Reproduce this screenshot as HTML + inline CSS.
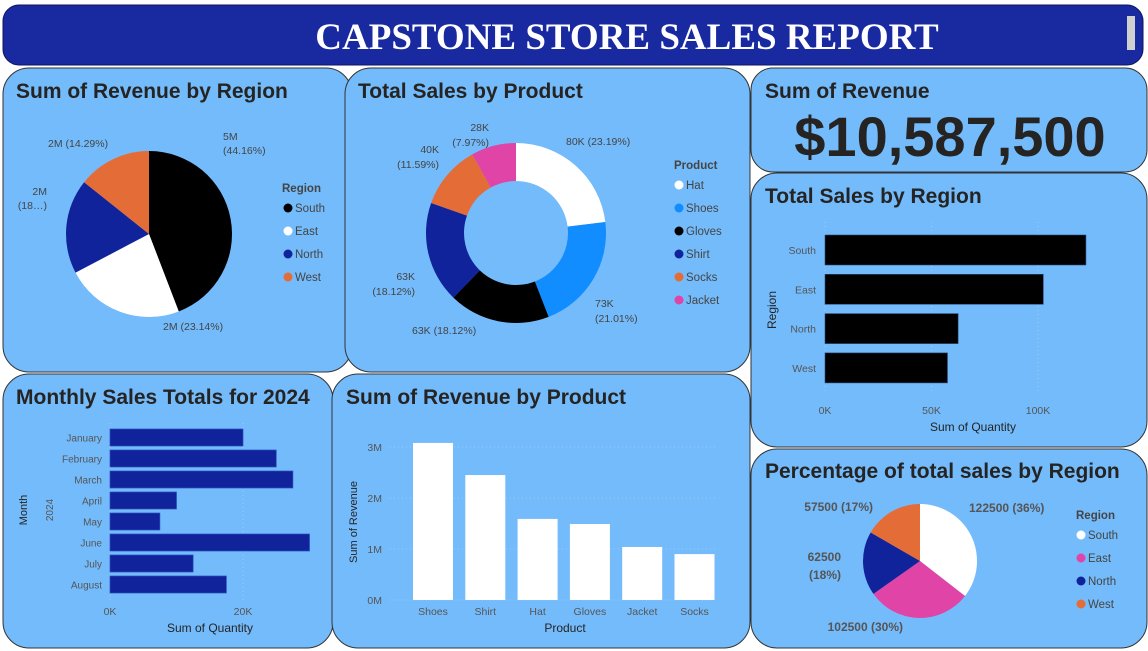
<!DOCTYPE html>
<html><head><meta charset="utf-8"><style>
html,body{margin:0;padding:0;background:#fff;width:1148px;height:651px;overflow:hidden;font-family:"Liberation Sans",sans-serif}
svg text{font-family:"Liberation Sans",sans-serif}
</style></head><body>
<svg id="s" width="1148" height="651" viewBox="0 0 1148 651" xmlns="http://www.w3.org/2000/svg">
<g id="panels">
<rect x="3" y="5" width="1140" height="60" rx="16" fill="#1929a0" stroke="#0e1560"/>
<text x="627" y="49" text-anchor="middle" fill="#fff" font-weight="bold" font-size="37" style="font-family:'Liberation Serif',serif">CAPSTONE STORE SALES REPORT</text>
<rect x="1127" y="16" width="8" height="34" fill="#d0d0d0"/>
<rect x="3" y="68" width="349" height="304" rx="26" fill="#74bbfb" stroke="#333"/>
<rect x="345" y="68" width="405" height="304" rx="26" fill="#74bbfb" stroke="#333"/>
<rect x="751" y="68" width="396" height="104" rx="22" fill="#74bbfb" stroke="#333"/>
<rect x="751" y="173" width="396" height="274" rx="26" fill="#74bbfb" stroke="#333"/>
<rect x="751" y="449" width="396" height="199" rx="26" fill="#74bbfb" stroke="#333"/>
<rect x="3" y="374" width="330" height="274" rx="26" fill="#74bbfb" stroke="#333"/>
<rect x="332" y="374" width="418" height="274" rx="26" fill="#74bbfb" stroke="#333"/>
</g>
<g fill="#252423" font-weight="bold" font-size="21">
<text x="16" y="98">Sum of Revenue by Region</text>
<text x="358" y="98">Total Sales by Product</text>
<text x="765" y="98">Sum of Revenue</text>
<text x="765" y="203">Total Sales by Region</text>
<text x="765" y="478">Percentage of total sales by Region</text>
<text x="16" y="404">Monthly Sales Totals for 2024</text>
<text x="346" y="404">Sum of Revenue by Product</text>
</g>
<text x="950" y="156" text-anchor="middle" fill="#252423" font-weight="bold" font-size="56">$10,587,500</text>
<g id="c"></g>
</svg>
<script>
const NS="http://www.w3.org/2000/svg";
const root=document.getElementById('c');
function mk(tag,a,parent){const e=document.createElementNS(NS,tag);for(const k in a)e.setAttribute(k,a[k]);(parent||root).appendChild(e);return e;}
function txt(x,y,s,a){const e=mk('text',Object.assign({x:x,y:y,fill:'#444','font-size':11},a||{}));e.textContent=s;return e;}
function arc(cx,cy,rx,ry,a0,a1,ir){
  const p=(f,r1,r2)=>[cx+r1*Math.sin(f*2*Math.PI),cy-r2*Math.cos(f*2*Math.PI)];
  const large=(a1-a0)>0.5?1:0;
  const [x0,y0]=p(a0,rx,ry),[x1,y1]=p(a1,rx,ry);
  if(!ir) return `M${cx},${cy}L${x0},${y0}A${rx},${ry} 0 ${large} 1 ${x1},${y1}Z`;
  const [x2,y2]=p(a1,ir,ir),[x3,y3]=p(a0,ir,ir);
  return `M${x0},${y0}A${rx},${ry} 0 ${large} 1 ${x1},${y1}L${x2},${y2}A${ir},${ir} 0 ${large} 0 ${x3},${y3}Z`;
}

const regions1=['South','East','North','West'];
const revShare=[44.16,23.14,18.41,14.29];
const regColors1=['#000000','#ffffff','#11239a','#e46c37'];
const products=['Hat','Shoes','Gloves','Shirt','Socks','Jacket'];
const productSales=[80,73,63,63,40,28];
const prodColors=['#ffffff','#118dff','#000000','#11239a','#e46c37','#e044a7'];
const regions2=['South','East','North','West'];
const regionQty=[122.5,102.5,62.5,57.5];
const regionTicks=[0,50,100];
const regionTickLabels=['0K','50K','100K'];
const regions3=['South','East','North','West'];
const regionPct=[122500,102500,62500,57500];
const regColors3=['#ffffff','#e044a7','#11239a','#e46c37'];
const months=['January','February','March','April','May','June','July','August'];
const monthQty=[20,25,27.5,10,7.5,30,12.5,17.5];
const monthTicks=[0,20];
const monthTickLabels=['0K','20K'];
const prodCats=['Shoes','Shirt','Hat','Gloves','Jacket','Socks'];
const prodRevenue=[3.08,2.45,1.59,1.49,1.04,0.9];
const revTicks=[0,1,2,3];
const revTickLabels=['0M','1M','2M','3M'];

(function(){
  const tot=revShare.reduce((a,b)=>a+b,0);let a=0;
  revShare.forEach((v,i)=>{const f=v/tot;
    const e=mk('path',{d:arc(149,234,83,83,a,a+f),fill:regColors1[i]});
    
    a+=f;});
  const L=[[223,140,'5M','start'],[223,154,'(44.16%)','start'],[163,330,'2M (23.14%)','start'],[47,195,'2M','end'],[47,209,'(18…)','end'],[48,147,'2M (14.29%)','start']];
  L.forEach(l=>{const t=txt(l[0],l[1],l[2],{'text-anchor':l[3],'font-size':10.5,fill:'#444'});
    });
  const t=txt(282,192,'Region',{'font-weight':'bold','font-size':11.5,fill:'#444'});
  
  regions1.forEach((r,i)=>{const y=212+i*23;
    const c=mk('circle',{cx:288,cy:y-4,r:4.5,fill:regColors1[i]});
    
    const tt=txt(295,y,r,{'font-size':11.5,fill:'#444'});
    });
})();

(function(){
  const tot=productSales.reduce((a,b)=>a+b,0);let a=0;
  productSales.forEach((v,i)=>{const f=v/tot;
    const e=mk('path',{d:arc(516,233,90,90,a,a+f,52),fill:prodColors[i]});
    
    a+=f;});
  const L=[[566,145,'80K (23.19%)','start'],[595,307,'73K','start'],[595,322,'(21.01%)','start'],[412,334,'63K (18.12%)','start'],[415,280,'63K','end'],[415,295,'(18.12%)','end'],[439,153,'40K','end'],[439,168,'(11.59%)','end'],[489,131,'28K','end'],[489,146,'(7.97%)','end']];
  L.forEach(l=>{const t=txt(l[0],l[1],l[2],{'text-anchor':l[3],'font-size':10.5,fill:'#444'});
    });
  const t=txt(674,169,'Product',{'font-weight':'bold','font-size':11.5,fill:'#444'});
  
  products.forEach((p,i)=>{const y=189+i*23;
    const c=mk('circle',{cx:679,cy:y-4,r:4.5,fill:prodColors[i]});
    
    const tt=txt(686,y,p,{'font-size':11.5,fill:'#444'});
    });
})();

(function(){
  const x0=825,k=2.13,x=v=>x0+v*k,y0=235,step=39.3,h=30;
  regionTicks.forEach((v,i)=>{
    const l=mk('line',{x1:x(v),x2:x(v),y1:222,y2:392,stroke:'#9bc9f5','stroke-dasharray':'1 3'});
    
    const t=txt(x(v),414,regionTickLabels[i],{'text-anchor':'middle','font-size':10.5,fill:'#555'});
    });
  regions2.forEach((r,i)=>{const y=y0+i*step;
    const b=mk('rect',{x:x0,y:y,width:x(regionQty[i])-x0,height:h,fill:'#000',stroke:'#2c4a7a','stroke-width':0.6});
    
    const t=txt(816,y+h/2+4,r,{'text-anchor':'end','font-size':10.5,fill:'#555'});
    });
  const a=txt(973,431,'Sum of Quantity',{'text-anchor':'middle','font-size':12,fill:'#252423'});
  
  const b=txt(0,0,'Region',{'text-anchor':'middle','font-size':12,fill:'#252423',transform:'translate(776,310) rotate(-90)'});
  
})();

(function(){
  const tot=regionPct.reduce((a,b)=>a+b,0);let a=0;
  regionPct.forEach((v,i)=>{const f=v/tot;
    const e=mk('path',{d:arc(920,561,57,57,a,a+f),fill:regColors3[i]});
    
    a+=f;});
  const L=[[969,512,'122500 (36%)','start'],[873,511,'57500 (17%)','end'],[841,561,'62500','end'],[841,579,'(18%)','end'],[903,631,'102500 (30%)','end']];
  L.forEach(l=>{const t=txt(l[0],l[1],l[2],{'text-anchor':l[3],'font-size':12,'font-weight':'bold',fill:'#555'});
    });
  const t=txt(1076,519,'Region',{'font-weight':'bold','font-size':11.5,fill:'#444'});
  
  regions3.forEach((r,i)=>{const y=539+i*23;
    const c=mk('circle',{cx:1081,cy:y-4,r:4.5,fill:regColors3[i]});
    
    const tt=txt(1088,y,r,{'font-size':11.5,fill:'#444'});
    });
})();

(function(){
  const x0=110,k=6.65,x=v=>x0+v*k,y0=429,step=21,h=17;
  monthTicks.forEach((v,i)=>{
    const l=mk('line',{x1:x(v),x2:x(v),y1:423,y2:600,stroke:'#9bc9f5','stroke-dasharray':'1 3'});
    
    const t=txt(x(v),615,monthTickLabels[i],{'text-anchor':'middle','font-size':10.5,fill:'#555'});
    });
  months.forEach((m,i)=>{const y=y0+i*step;
    const b=mk('rect',{x:x0,y:y,width:x(monthQty[i])-x0,height:h,fill:'#11239a',stroke:'#2a4cc0','stroke-width':0.7});
    
    const t=txt(102,y+h/2+4,m,{'text-anchor':'end','font-size':10,fill:'#555'});
    });
  const a=txt(210,632,'Sum of Quantity',{'text-anchor':'middle','font-size':12,fill:'#252423'});
  
  const b=txt(0,0,'Month',{'text-anchor':'middle','font-size':11,fill:'#252423',transform:'translate(27,510) rotate(-90)'});
  
  const c=txt(0,0,'2024',{'text-anchor':'middle','font-size':10,fill:'#555',transform:'translate(53,510) rotate(-90)'});
  
})();

(function(){
  const y0=600,k=51,y=v=>y0-v*k,xs=413,step=52.3,w=40;
  revTicks.forEach((v,i)=>{
    const l=mk('line',{x1:390,x2:715,y1:y(v),y2:y(v),stroke:'#9bc9f5','stroke-dasharray':'1 3'});
    
    const t=txt(382,y(v)+4,revTickLabels[i],{'text-anchor':'end','font-size':10.5,fill:'#555'});
    });
  prodCats.forEach((p,i)=>{const x=xs+i*step;
    const b=mk('rect',{x:x,y:y(prodRevenue[i]),width:w,height:y0-y(prodRevenue[i]),fill:'#fff'});
    
    const t=txt(x+w/2,615,p,{'text-anchor':'middle','font-size':10.5,fill:'#555'});
    });
  const a=txt(565,632,'Product',{'text-anchor':'middle','font-size':12,fill:'#252423'});
  
  const b=txt(0,0,'Sum of Revenue',{'text-anchor':'middle','font-size':11,fill:'#252423',transform:'translate(357,522) rotate(-90)'});
  
})();
</script>
</body></html>
